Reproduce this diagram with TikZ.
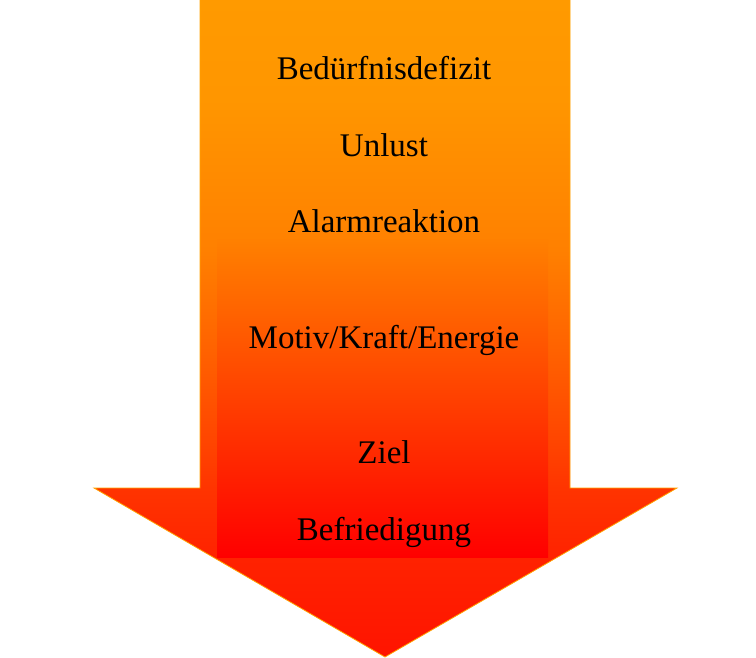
\documentclass[tikz,border=0pt]{standalone}
\usepackage{fontspec}
\setmainfont{Liberation Serif}
\pgfdeclareverticalshading{outerarrow}{100bp}{%
  rgb(0bp)=(1,0.078,0);
  rgb(25bp)=(1,0.078,0);
  rgb(32.36bp)=(1,0.133,0);
  rgb(37.82bp)=(1,0.204,0);
  rgb(40.71bp)=(1,0.259,0);
  rgb(48.29bp)=(1,0.384,0);
  rgb(55.88bp)=(1,0.502,0);
  rgb(67.26bp)=(1,0.588,0);
  rgb(75bp)=(1,0.604,0);
  rgb(100bp)=(1,0.604,0)}
\begin{document}
\begin{tikzpicture}[x=1pt,y=-1pt,
  lbl/.style={anchor=base,inner sep=0pt,font=\fontsize{33}{40}\selectfont,text=black}]
\useasboundingbox (0,0) rectangle (756,658);
\definecolor{edgeor}{HTML}{FFA200}
\definecolor{intop}{HTML}{FF8000}
\definecolor{inmid}{HTML}{FF4600}
\definecolor{inbot}{HTML}{FF0000}
% outer arrow
\path[shading=outerarrow]
  (200,-2) -- (570,-2) -- (570,488) -- (677,488) -- (385,657) -- (94,488) -- (200,488) -- cycle;
\draw[edgeor,line width=0.8pt,line join=miter]
  (200,-2) -- (200,488) -- (94,488) -- (385,657) -- (677,488) -- (570,488) -- (570,-2);
% inner rectangle
\path[top color=intop,middle color=inmid,bottom color=inbot] (217,240) rectangle (548,557);
% labels
\node[lbl] (n1) at (384,80) {Bedürfnisdefizit};
\node[lbl] (n2) at (384,157) {Unlust};
\node[lbl] (n3) at (384,233) {Alarmreaktion};
\node[lbl] (n4) at (384,348) {Motiv/Kraft/Energie};
\node[lbl] (n5) at (384,463) {Ziel};
\node[lbl] (n6) at (384,540) {Befriedigung};
\end{tikzpicture}
\end{document}
